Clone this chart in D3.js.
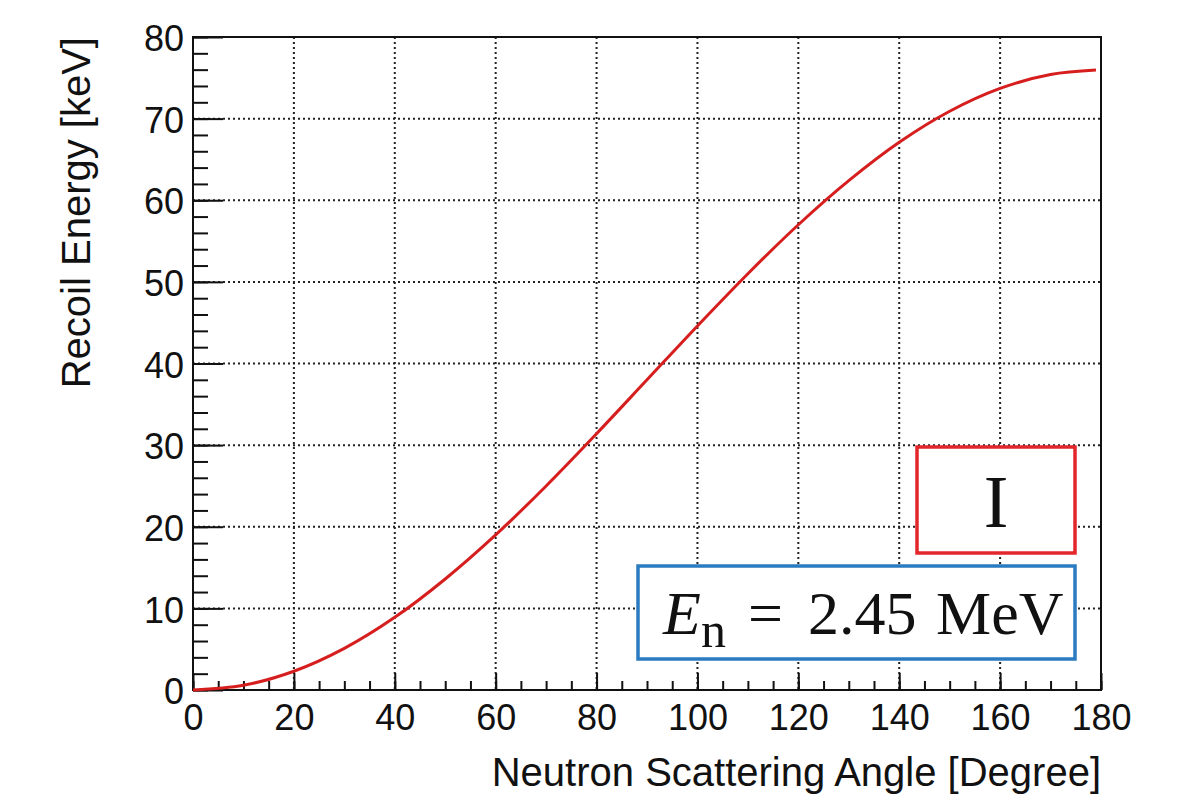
<!DOCTYPE html>
<html>
<head>
	<title>Recoil Energy</title>
	<script src="https://d3js.org/d3.v7.min.js"></script>
	<style>
		body { margin: 0; background: #fff; }
	</style>
</head>
<body>
	<svg id="chart" width="1182" height="803"></svg>

	<script type="text/javascript">
// 读图得到的数据: 散射角 (度) 与反冲能量 (keV)
var angles = [0, 10, 20, 30, 40, 50, 60, 70, 80, 90, 100, 110, 120, 130, 140, 150, 160, 170, 179];
var energies = [0, 0.58, 2.3, 5.1, 8.9, 13.6, 19.0, 25.0, 31.4, 38.0, 44.6, 51.0, 57.0, 62.4, 67.1, 70.9, 73.7, 75.4, 75.95];
var xTicks = [0, 20, 40, 60, 80, 100, 120, 140, 160, 180];
var yTicks = [0, 10, 20, 30, 40, 50, 60, 70, 80];
var xTitle = 'Neutron Scattering Angle [Degree]';
var yTitle = 'Recoil Energy [keV]';

var svg = d3.select('#chart');
//  绘图区边界
var pLeft = 193, pRight = 1101, pTop = 37, pBottom = 690;

var x = d3.scaleLinear().domain([0, 180]).range([pLeft, pRight]);
var y = d3.scaleLinear().domain([0, 80]).range([pBottom, pTop]);

var sans = '"Liberation Sans", Arial, sans-serif';
var serif = '"Liberation Serif", "DejaVu Serif", serif';

//  网格线 (点线)
var grid = svg.append('g').attr('stroke', '#222').attr('stroke-width', 2)
	.attr('stroke-dasharray', '2,3');
grid.selectAll('.gx').data(xTicks.slice(1, -1)).enter().append('line')
	.attr('x1', function(d) { return x(d); }).attr('x2', function(d) { return x(d); })
	.attr('y1', pTop).attr('y2', pBottom);
grid.selectAll('.gy').data(yTicks.slice(1, -1)).enter().append('line')
	.attr('y1', function(d) { return y(d); }).attr('y2', function(d) { return y(d); })
	.attr('x1', pLeft).attr('x2', pRight);

//  坐标框
svg.append('rect').attr('x', pLeft).attr('y', pTop)
	.attr('width', pRight - pLeft).attr('height', pBottom - pTop)
	.attr('fill', 'none').attr('stroke', '#111').attr('stroke-width', 2);

//  X 轴刻度
var xAxis = d3.axisBottom(x).tickValues(xTicks).tickSize(-17).tickPadding(33)
	.tickFormat(d3.format('d'));
var gx = svg.append('g').attr('transform', 'translate(0,' + pBottom + ')').call(xAxis);
gx.select('.domain').remove();
gx.selectAll('line').attr('stroke', '#111').attr('stroke-width', 2);
gx.selectAll('text').attr('font-family', sans).attr('font-size', 36).attr('fill', '#111')
	.attr('dy', '0.2em');
var xMinor = d3.axisBottom(x).tickValues(d3.range(0, 181, 5)).tickSize(-9).tickFormat('');
var gxm = svg.append('g').attr('transform', 'translate(0,' + pBottom + ')').call(xMinor);
gxm.select('.domain').remove();
gxm.selectAll('line').attr('stroke', '#111').attr('stroke-width', 2);

//  Y 轴刻度
var yAxis = d3.axisLeft(y).tickValues(yTicks).tickSize(-30).tickPadding(10)
	.tickFormat(d3.format('d'));
var gy = svg.append('g').attr('transform', 'translate(' + pLeft + ',0)').call(yAxis);
gy.select('.domain').remove();
gy.selectAll('line').attr('stroke', '#111').attr('stroke-width', 2);
gy.selectAll('text').attr('font-family', sans).attr('font-size', 36).attr('fill', '#111')
	.attr('x', -9).attr('dy', '0.38em');
var yMinor = d3.axisLeft(y).tickValues(d3.range(0, 81, 2)).tickSize(-15).tickFormat('');
var gym = svg.append('g').attr('transform', 'translate(' + pLeft + ',0)').call(yMinor);
gym.select('.domain').remove();
gym.selectAll('line').attr('stroke', '#111').attr('stroke-width', 2);

//  轴标题
svg.append('text').attr('x', pRight).attr('y', 786).attr('text-anchor', 'end')
	.attr('font-family', sans).attr('font-size', 40).attr('fill', '#111').text(xTitle);
svg.append('text').attr('transform', 'translate(90,' + pTop + ') rotate(-90)')
	.attr('text-anchor', 'end').attr('font-family', sans).attr('font-size', 40)
	.attr('fill', '#111').text(yTitle);

//  曲线
var lineCreator = d3.line()
	.x(function(d, i) { return x(angles[i]); })
	.y(function(d) { return y(d); })
	.curve(d3.curveCatmullRom.alpha(0.5));
svg.append('path').attr('d', lineCreator(energies))
	.attr('fill', 'none').attr('stroke', '#d61e1e').attr('stroke-width', 3);

//  标注框
svg.append('rect').attr('x', 917).attr('y', 447).attr('width', 158).attr('height', 106)
	.attr('fill', '#fff').attr('stroke', '#e3262b').attr('stroke-width', 3.5);
svg.append('text').attr('x', 996).attr('y', 527).attr('text-anchor', 'middle')
	.attr('font-family', serif).attr('font-size', 74).attr('fill', '#111').text('I');

svg.append('rect').attr('x', 638).attr('y', 566).attr('width', 437).attr('height', 93)
	.attr('fill', '#fff').attr('stroke', '#2a7bc0').attr('stroke-width', 3.5);
var en = svg.append('text').attr('y', 634)
	.attr('font-family', serif).attr('font-size', 62).attr('fill', '#111');
en.append('tspan').attr('x', 663).attr('font-style', 'italic').text('E');
en.append('tspan').attr('font-size', 50).attr('dy', 13).text('n');
en.append('tspan').attr('x', 748).attr('dy', -13).text('=');
en.append('tspan').attr('x', 808).text('2.45');
en.append('tspan').attr('x', 936).text('MeV');
	</script>
</body>
</html>
